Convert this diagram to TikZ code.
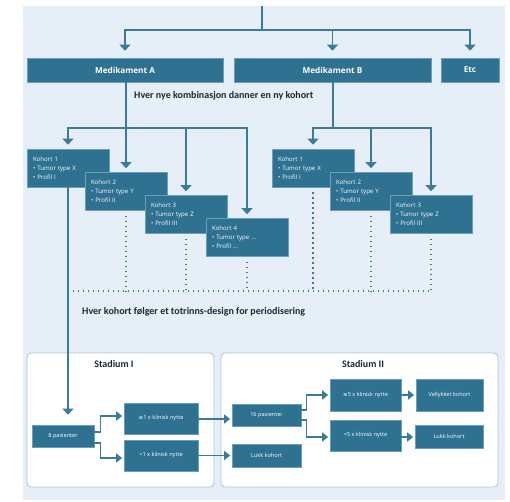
\documentclass[tikz,border=0pt]{standalone}
\usepackage{fontspec}
\setmainfont{Open Sans}
\newfontfamily\headfont{Carlito}
\newfontfamily\symf{DejaVu Sans}
\usetikzlibrary{arrows.meta}
\definecolor{bgc}{HTML}{E6EEF8}
\definecolor{boxc}{HTML}{2E7191}
\definecolor{boxedge}{HTML}{6A9FBB}
\definecolor{linec}{HTML}{3A7B9A}
\definecolor{panedge}{HTML}{A9C4D4}
\definecolor{headc}{HTML}{1E2830}
\tikzset{
  box/.style={fill=boxc, draw=boxedge, line width=0.7pt, text=white, inner sep=0pt, align=center},
  medbox/.style={box, font=\bfseries\fontsize{8.2}{9}\selectfont},
  kbox/.style={box, minimum width=82pt, minimum height=38pt, text width=70pt, align=left, font=\fontsize{6.1}{8.8}\selectfont},
  sbox/.style={box, font=\fontsize{5.6}{6.5}\selectfont},
  conn/.style={draw=linec, line width=1.5pt},
  arr/.style={conn, -{Triangle[width=11pt,length=6pt]}},
  sarr/.style={conn, -{Triangle[width=9pt,length=6pt]}, shorten >=1.5pt},
  dots/.style={draw=linec, line width=1.4pt, dash pattern=on 1.4pt off 3.6pt},
  panel/.style={fill=white, draw=panedge, line width=0.8pt, rounded corners=4pt},
  head/.style={font=\headfont\bfseries\fontsize{10}{12}\selectfont, text=headc, inner sep=0pt},
}
\begin{document}
\begin{tikzpicture}[x=1pt,y=-1pt]
\useasboundingbox (0,0) rectangle (510,501);
\fill[bgc] (23,6) rectangle (505,500);

% level 1
\node[medbox, minimum width=196pt, minimum height=24pt] (medA) at (125,70) {Medikament A};
\node[medbox, minimum width=197pt, minimum height=24pt] (medB) at (332.5,70) {Medikament B};
\node[medbox, minimum width=58pt, minimum height=24pt] (etc) at (470,70) {Etc};

\coordinate (top) at (262,6);
\coordinate (split) at (262,30);
\draw[conn] (top) -- (split);
\draw[arr, shorten >=7pt] (split) -| (medA.north);
\draw[arr, shorten >=7pt] (split) -| (medB.north);
\draw[arr, shorten >=7pt] (split) -| (etc.north);

\node[head, anchor=west] (t1) at (134,96) {Hver nye kombinasjon danner en ny kohort};

% kohorts A
\node[kbox] (kA1) at (68,168) {Kohort 1\\• Tumor type X\\• Profil I};
\node[kbox] (kA2) at (126,191.5) {Kohort 2\\• Tumor type Y\\• Profil II};
\node[kbox] (kA3) at (186,214.5) {Kohort 3\\• Tumor type Z\\• Profil III};
\node[kbox] (kA4) at (247,237.5) {Kohort 4\\• Tumor type ...\\• Profil ...};

% kohorts B
\node[kbox] (kB1) at (313,168) {Kohort 1\\• Tumor type X\\• Profil I};
\node[kbox] (kB2) at (371,191.5) {Kohort 2\\• Tumor type Y\\• Profil II};
\node[kbox] (kB3) at (431,214.5) {Kohort 3\\• Tumor type Z\\• Profil III};

% dotted collectors
\coordinate (dl) at (68,291);
\coordinate (dr) at (432,291);
\draw[dots, shorten <=5pt] (kA2.south) -- (kA2.south |- dl);
\draw[dots, shorten <=5pt] (kA3.south) -- (kA3.south |- dl);
\draw[dots, shorten <=5pt] (kA4.south) -- (kA4.south |- dl);
\draw[dots, shorten <=5pt] (kB1.south) -- (kB1.south |- dl);
\draw[dots, shorten <=5pt] (kB2.south) -- (kB2.south |- dl);
\draw[dots, shorten <=5pt] (kB3.south) -- (kB3.south |- dl);
\draw[dots] (dl) -- (dr);

% brackets to kohorts
\coordinate (hA) at (126,128);
\coordinate (hB) at (333,128);
\draw[arr, shorten >=4pt] (medA.south -| kA2.north) -- (kA2.north);
\draw[arr, shorten >=4pt] (hA) -| (kA1.north);
\draw[arr, shorten >=4pt] (hA) -| (kA3.north);
\draw[arr, shorten >=4pt] (hA) -| (kA4.north);
\draw[conn] (medB.south -| hB) -- (hB);
\draw[arr, shorten >=4pt] (hB) -| (kB1.north);
\draw[arr, shorten >=4pt] (hB) -| (kB2.north);
\draw[arr, shorten >=4pt] (hB) -| (kB3.north);

\node[head, anchor=west] (t2) at (82,312) {Hver kohort følger et totrinns-design for periodisering};

% panels
\draw[panel] (27,353) rectangle (214,487);
\draw[panel] (221,353) rectangle (498,487);
\node[head] (s1) at (114,364) {Stadium I};
\node[head] (s2) at (363,364) {Stadium II};

% stage boxes
\node[sbox, minimum width=62pt, minimum height=22pt] (p8) at (63,436) {8 pasienter};
\node[sbox, minimum width=74pt, minimum height=31pt] (g1) at (161,418.5) {{\symf ≥}1 x klinisk nytte};
\node[sbox, minimum width=74pt, minimum height=31pt] (l1) at (161,455.5) {<1 x klinisk nytte};
\node[sbox, minimum width=69pt, minimum height=22pt] (p16) at (266.5,415) {16 pasienter};
\node[sbox, minimum width=69pt, minimum height=23pt] (lk1) at (266.5,455.5) {Lukk kohort};
\node[sbox, minimum width=71pt, minimum height=32pt] (g5) at (365.5,395) {{\symf ≥}5 x klinisk nytte};
\node[sbox, minimum width=71pt, minimum height=31pt] (l5) at (365.5,435.5) {<5 x klinisk nytte};
\node[sbox, minimum width=67pt, minimum height=32pt] (vk) at (449.5,395) {Vellykket kohort};
\node[sbox, minimum width=68pt, minimum height=23pt] (lk2) at (449,436.5) {Lukk kohort};

% kohort 1 down to stage I
\draw[arr, shorten >=10pt] (kA1.south) -- (kA1.south |- p8.north);

% stage connectors
\draw[sarr] ([yshift=4pt]p8.east) -- ++(6,0) |- ([yshift=2.5pt]g1.west);
\draw[sarr] ([yshift=-7pt]p8.east) -- ++(6,0) |- ([yshift=-2.5pt]l1.west);
\draw[sarr] ([yshift=-0.5pt]g1.east) -- ([yshift=-0.5pt]g1.east -| p16.west);
\draw[sarr] (l1.east) -- (l1.east -| lk1.west);
\draw[sarr] ([yshift=5pt]p16.east) -- ++(5,0) |- (g5.west);
\draw[sarr] ([yshift=-5pt]p16.east) -- ++(5,0) |- ([yshift=-1.5pt]l5.west);
\draw[sarr] (g5.east) -- (vk.west);
\draw[sarr] ([yshift=-1.5pt]l5.east) -- ([yshift=-1.5pt]l5.east -| lk2.west);
\end{tikzpicture}
\end{document}
